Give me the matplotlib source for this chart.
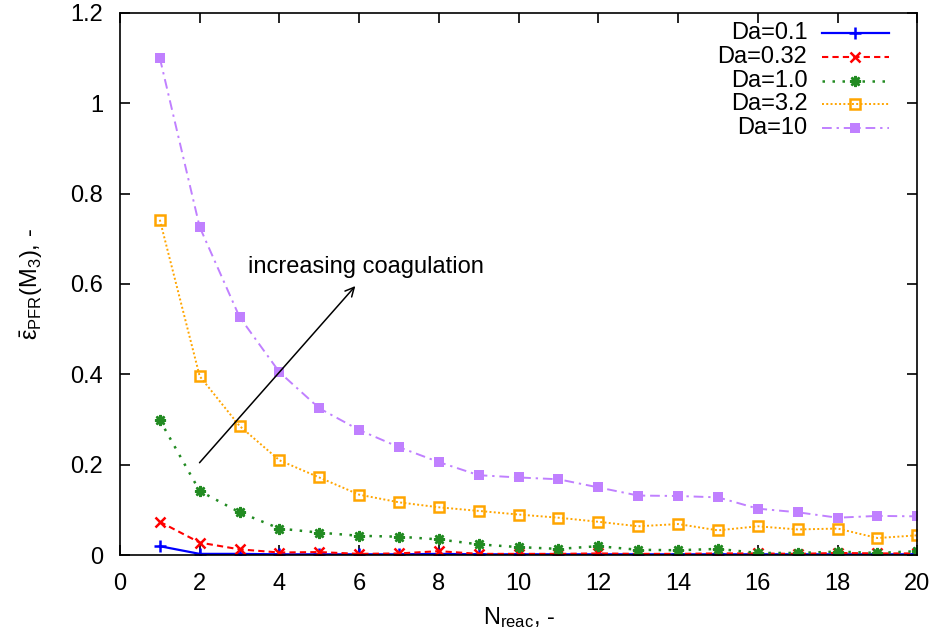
import numpy as np
import matplotlib
matplotlib.use("Agg")
import matplotlib.pyplot as plt
from matplotlib.lines import Line2D

plt.rcParams['font.family'] = ['Liberation Sans', 'DejaVu Sans']
plt.rcParams['font.size'] = 17
plt.rcParams['mathtext.fontset'] = 'custom'
plt.rcParams['mathtext.rm'] = 'Liberation Sans'
plt.rcParams['mathtext.it'] = 'Liberation Sans'

# number of reactors
n_reac = list(range(1, 21))

# epsilon values per Damkoehler number
eps_da01 = [0.020, 0.003, 0.003, 0.002, 0.002, 0.002, 0.002, 0.003, 0.002, 0.002,
            0.002, 0.002, 0.002, 0.002, 0.002, 0.002, 0.002, 0.002, 0.002, 0.002]
eps_da032 = [0.074, 0.028, 0.013, 0.006, 0.007, 0.003, 0.004, 0.009, 0.003, 0.003,
             0.003, 0.004, 0.003, 0.003, 0.004, 0.004, 0.003, 0.005, 0.004, 0.004]
eps_da1 = [0.299, 0.142, 0.095, 0.059, 0.050, 0.043, 0.041, 0.035, 0.024, 0.018,
           0.014, 0.020, 0.012, 0.011, 0.014, 0.005, 0.005, 0.008, 0.005, 0.009]
eps_da32 = [0.742, 0.396, 0.286, 0.210, 0.172, 0.134, 0.117, 0.106, 0.098, 0.090,
            0.083, 0.074, 0.064, 0.069, 0.055, 0.064, 0.057, 0.059, 0.038, 0.044]
eps_da10 = [1.100, 0.726, 0.527, 0.405, 0.325, 0.277, 0.239, 0.206, 0.177, 0.172,
            0.168, 0.150, 0.132, 0.131, 0.128, 0.103, 0.095, 0.083, 0.087, 0.086]

labels = ["Da=0.1", "Da=0.32", "Da=1.0", "Da=3.2", "Da=10"]
series = [eps_da01, eps_da032, eps_da1, eps_da32, eps_da10]

styles = [
    dict(color='#0000ff', lw=1.6, ls='-', marker='+', ms=8, mew=1.8),
    dict(color='#ff0000', lw=1.5, ls=(0, (3, 2)), marker='x', ms=7, mew=1.8),
    dict(color='#228b22', lw=1.8, ls=(0, (1, 3)), marker=(8, 2, 0), ms=8, mew=1.8),
    dict(color='#ffa500', lw=1.4, ls=(0, (1, 1.2)), marker='s', ms=7, mew=1.8, mfc='none'),
    dict(color='#c080ff', lw=1.4, ls=(0, (5, 2.5, 1.2, 2.5)), marker='s', ms=6.5, mew=0),
]

fig = plt.figure(figsize=(9.37, 6.36), dpi=100)
ax = fig.add_axes([0.128, 0.127, 0.851, 0.853])

for y, lab, st in zip(series, labels, styles):
    ax.plot(n_reac, y, label=lab, **st)

ax.annotate("", xy=(5.95, 0.6), xytext=(1.95, 0.2),
            arrowprops=dict(arrowstyle='->', color='black', lw=1.1,
                            mutation_scale=16))
ax.text(3.2, 0.625, "increasing coagulation", fontsize=17)

ax.set_xlim(0, 20)
ax.set_ylim(0, 1.2)
ax.set_xticks(np.arange(0, 21, 2))
ax.set_yticks(np.arange(0, 1.21, 0.2))
ax.set_yticklabels(["0", "0.2", "0.4", "0.6", "0.8", "1", "1.2"])
ax.tick_params(direction='in', top=True, right=True, length=7, width=1.2)
ax.tick_params(axis='x', pad=13)
ax.tick_params(axis='y', pad=12)
for spine in ax.spines.values():
    spine.set_linewidth(1.2)

ax.set_xlabel(r"N$_{\mathrm{reac}}$, -", labelpad=7)
ax.set_ylabel(r"$\bar{\mathrm{\varepsilon}}_{\mathrm{PFR}}$(M$_3$), -", labelpad=18)

# gnuplot-like key: right-aligned text, sample line to its right
row_y = [0.963, 0.919, 0.875, 0.831, 0.788]
for ry, lab, st in zip(row_y, labels, styles):
    ax.text(0.862, ry, lab, transform=ax.transAxes, ha='right', va='center', fontsize=17)
    ax.add_line(Line2D([0.881, 0.964], [ry, ry], transform=ax.transAxes,
                       **{k: v for k, v in st.items() if k != 'marker'}))
    ax.add_line(Line2D([0.922], [ry], transform=ax.transAxes, ls='none',
                       **{k: v for k, v in st.items() if k != 'ls'}))

fig.savefig("out.png", dpi=100)
